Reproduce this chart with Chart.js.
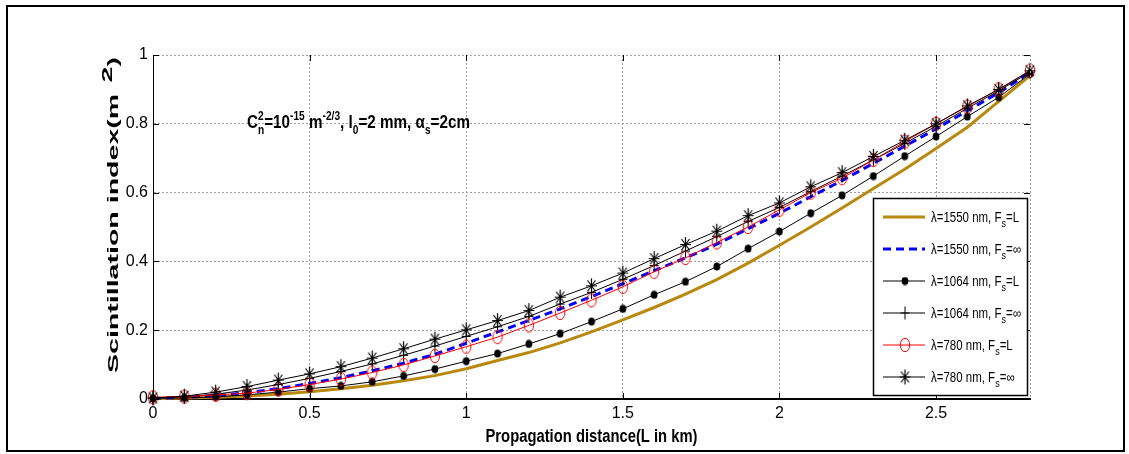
<!DOCTYPE html>
<html>
<head>
<meta charset="utf-8">
<script src="https://cdn.jsdelivr.net/npm/chart.js@4.4.1/dist/chart.umd.min.js"></script>
<style>
  html, body { margin: 0; padding: 0; background: #fff; }
  #wrap { width: 1129px; height: 454px; }
</style>
</head>
<body>
<div id="wrap"><canvas id="chart" width="1129" height="454"></canvas></div>
<script>
// ====================
// Data
// ====================
const distanceKm = [0, 0.1, 0.2, 0.3, 0.4, 0.5, 0.6, 0.7, 0.8, 0.9, 1, 1.1, 1.2, 1.3, 1.4,
  1.5, 1.6, 1.7, 1.8, 1.9, 2, 2.1, 2.2, 2.3, 2.4, 2.5, 2.6, 2.7, 2.8];

const s1550L = [0.001, 0.003, 0.005, 0.009, 0.014, 0.021, 0.03, 0.04, 0.053, 0.068, 0.088, 0.112,
  0.135, 0.163, 0.195, 0.23, 0.266, 0.305, 0.347, 0.395, 0.447, 0.5, 0.555, 0.612, 0.668,
  0.728, 0.79, 0.865, 0.94];
const s1550Inf = [0.002, 0.004, 0.01, 0.018, 0.03, 0.045, 0.062, 0.082, 0.104, 0.13, 0.162, 0.195,
  0.228, 0.262, 0.298, 0.335, 0.373, 0.41, 0.45, 0.495, 0.54, 0.588, 0.635, 0.685, 0.735,
  0.785, 0.838, 0.89, 0.95];
const s1064L = [0.002, 0.003, 0.006, 0.012, 0.02, 0.03, 0.038, 0.05, 0.067, 0.087, 0.11, 0.132,
  0.16, 0.19, 0.225, 0.262, 0.303, 0.341, 0.385, 0.437, 0.487, 0.54, 0.592, 0.648, 0.706,
  0.763, 0.821, 0.877, 0.945];
const s1064Inf = [0.003, 0.006, 0.014, 0.026, 0.042, 0.06, 0.08, 0.102, 0.127, 0.154, 0.182, 0.21,
  0.24, 0.276, 0.31, 0.348, 0.388, 0.43, 0.472, 0.516, 0.557, 0.603, 0.648, 0.695, 0.743,
  0.793, 0.845, 0.896, 0.95];
const s780L = [0.005, 0.007, 0.012, 0.017, 0.028, 0.042, 0.058, 0.077, 0.099, 0.125, 0.152, 0.18,
  0.214, 0.25, 0.287, 0.326, 0.37, 0.41, 0.455, 0.5, 0.55, 0.6, 0.642, 0.695, 0.748,
  0.8, 0.85, 0.9, 0.955];
const s780Inf = [0.003, 0.008, 0.02, 0.036, 0.055, 0.073, 0.094, 0.119, 0.146, 0.174, 0.201, 0.228,
  0.257, 0.296, 0.329, 0.366, 0.408, 0.449, 0.488, 0.533, 0.57, 0.617, 0.658, 0.705, 0.752,
  0.8, 0.852, 0.9, 0.954];

const seriesLabels = ['λ=1550 nm, F_s=L', 'λ=1550 nm, F_s=∞', 'λ=1064 nm, F_s=L',
  'λ=1064 nm, F_s=∞', 'λ=780 nm, F_s=L', 'λ=780 nm, F_s=∞'];
const xTicks = [0, 0.5, 1, 1.5, 2, 2.5];
const yTicks = [0, 0.2, 0.4, 0.6, 0.8, 1];
const xTitle = 'Propagation distance(L in km)';
const yTitle = 'Scintillation index(m';

// ====================
// Markers
// ====================
const SANS = '"Liberation Sans", Arial, sans-serif';

function markerCanvas(w, h, paint) {
  const c = document.createElement('canvas');
  c.width = w; c.height = h;
  const g = c.getContext('2d');
  paint(g, w / 2, h / 2);
  return c;
}

const dotMarker = markerCanvas(8, 9, (g, cx, cy) => {
  g.fillStyle = '#000';
  g.beginPath(); g.ellipse(cx, cy, 3.4, 4, 0, 0, Math.PI * 2); g.fill();
});
const ringMarker = markerCanvas(12, 16, (g, cx, cy) => {
  g.strokeStyle = '#ff0000'; g.lineWidth = 1;
  g.beginPath(); g.ellipse(cx, cy, 4.7, 6.7, 0, 0, Math.PI * 2); g.stroke();
});
const plusMarker = markerCanvas(11, 15, (g, cx, cy) => {
  g.strokeStyle = '#000'; g.lineWidth = 1;
  g.beginPath();
  g.moveTo(cx - 4.5, cy); g.lineTo(cx + 4.5, cy);
  g.moveTo(cx, cy - 6.5); g.lineTo(cx, cy + 6.5);
  g.stroke();
});
const starMarker = markerCanvas(13, 17, (g, cx, cy) => {
  g.strokeStyle = '#000'; g.lineWidth = 1.2;
  g.beginPath();
  g.moveTo(cx - 5.5, cy); g.lineTo(cx + 5.5, cy);
  g.moveTo(cx, cy - 7.5); g.lineTo(cx, cy + 7.5);
  g.moveTo(cx - 4, cy - 5.5); g.lineTo(cx + 4, cy + 5.5);
  g.moveTo(cx + 4, cy - 5.5); g.lineTo(cx - 4, cy + 5.5);
  g.stroke();
});

function pts(values) {
  return distanceKm.map((x, i) => ({ x, y: values[i] }));
}

const seriesValues = [s1550L, s1550Inf, s1064L, s1064Inf, s780L, s780Inf];
const seriesStyles = [
  { color: '#b8880f', width: 3, dash: [], marker: false },
  { color: '#0000ff', width: 3, dash: [8, 5], marker: false },
  { color: '#000000', width: 1, dash: [], marker: dotMarker },
  { color: '#000000', width: 1, dash: [], marker: plusMarker },
  { color: '#ff0000', width: 1, dash: [], marker: ringMarker },
  { color: '#000000', width: 1, dash: [], marker: starMarker }
];

const datasets = seriesValues.map((vals, i) => {
  const st = seriesStyles[i];
  return {
    label: seriesLabels[i],
    data: pts(vals),
    borderColor: st.color,
    borderWidth: st.width,
    borderDash: st.dash,
    tension: 0,
    fill: false,
    clip: false,
    order: seriesValues.length - i,
    pointStyle: st.marker || 'circle',
    pointRadius: st.marker ? 5 : 0,
    pointHoverRadius: st.marker ? 5 : 0
  };
});

// ====================
// Drawing helpers
// ====================
// draws a list of text runs (with sub/superscripts); returns total width
function drawRuns(ctx, runs, x, y, measureOnly) {
  const x0 = x;
  runs.forEach(r => {
    if (r.stack) {
      let w = 0;
      r.stack.forEach(s => {
        ctx.font = s.font;
        if (!measureOnly) ctx.fillText(s.t, x, y + s.dy);
        w = Math.max(w, ctx.measureText(s.t).width);
      });
      x += w;
      return;
    }
    ctx.font = r.font;
    if (!measureOnly) ctx.fillText(r.t, x, y + (r.dy || 0));
    x += ctx.measureText(r.t).width + (r.gap || 0);
  });
  return x - x0;
}

// draws runs squeezed/stretched so they span the given width
function drawFitted(ctx, runs, x, y, width) {
  const natural = drawRuns(ctx, runs, 0, 0, true);
  ctx.save();
  ctx.translate(x, y);
  ctx.scale(width / natural, 1);
  drawRuns(ctx, runs, 0, 0);
  ctx.restore();
}

function labelRuns(label, big, small) {
  const parts = label.split('_s');
  return [
    { t: parts[0], font: big },
    { t: 's', font: small, dy: 5 },
    { t: parts[1], font: big }
  ];
}

const decorations = {
  id: 'decorations',
  beforeDraw(chart) {
    const ctx = chart.ctx;
    ctx.save();
    ctx.fillStyle = '#fff';
    ctx.fillRect(0, 0, chart.width, chart.height);
    ctx.restore();
  },
  afterDraw(chart) {
    const ctx = chart.ctx;
    const a = chart.chartArea;
    const xs = chart.scales.x, ys = chart.scales.y;
    ctx.save();

    // right edge of the plot box, dotted like the grid
    ctx.strokeStyle = '#a0a0a0'; ctx.lineWidth = 1; ctx.setLineDash([2, 2]);
    ctx.beginPath(); ctx.moveTo(a.right + 0.5, a.top); ctx.lineTo(a.right + 0.5, a.bottom); ctx.stroke();
    ctx.setLineDash([]);

    // inward tick marks
    ctx.strokeStyle = '#000';
    ctx.beginPath();
    xTicks.forEach(v => {
      const px = Math.round(xs.getPixelForValue(v)) + 0.5;
      ctx.moveTo(px, a.bottom); ctx.lineTo(px, a.bottom - 6);
      ctx.moveTo(px, a.top); ctx.lineTo(px, a.top + 6);
    });
    yTicks.forEach(v => {
      const py = Math.round(ys.getPixelForValue(v)) + 0.5;
      ctx.moveTo(a.left, py); ctx.lineTo(a.left + 6, py);
      ctx.moveTo(a.right, py); ctx.lineTo(a.right - 6, py);
    });
    ctx.stroke();

    ctx.fillStyle = '#000';

    // y axis title, stretched along its length like the source figure
    ctx.save();
    ctx.translate(114, 215);
    ctx.rotate(-Math.PI / 2);
    ctx.textBaseline = 'middle';
    const yf = 'bold 15px ' + SANS;
    drawFitted(ctx, [
      { t: yTitle, font: yf, gap: 6 },
      { t: '2', font: yf, dy: -6 },
      { t: ')', font: yf }
    ], -158, 0, 316);
    ctx.restore();

    // x axis title
    ctx.textBaseline = 'middle';
    drawFitted(ctx, [{ t: xTitle, font: 'bold 18px ' + SANS }],
      (a.left + a.right) / 2 - 106, 437, 212);

    // annotation text with sub/superscripts
    const big = 'bold 18px ' + SANS;
    const sml = 'bold 12px ' + SANS;
    ctx.textBaseline = 'alphabetic';
    drawFitted(ctx, [
      { t: 'C', font: big },
      { stack: [{ t: '2', font: sml, dy: -8 }, { t: 'n', font: sml, dy: 6 }] },
      { t: '=10', font: big },
      { t: '-15', font: sml, dy: -8 },
      { t: ' m', font: big },
      { t: '-2/3', font: sml, dy: -8 },
      { t: ', l', font: big },
      { t: '0', font: sml, dy: 6 },
      { t: '=2 mm, α', font: big },
      { t: 's', font: sml, dy: 6 },
      { t: '=2cm', font: big }
    ], 247, 128, 223);

    // legend box
    const lx = 873, ly = 198, lw = 154, lh = 197;
    ctx.fillStyle = '#fff';
    ctx.fillRect(lx, ly, lw, lh);
    ctx.strokeStyle = '#000'; ctx.lineWidth = 1.5;
    ctx.strokeRect(lx + 0.5, ly + 0.5, lw, lh);
    chart.data.datasets.forEach((ds, i) => {
      const ry = 217 + i * 32;
      const st = seriesStyles[i];
      ctx.strokeStyle = st.color; ctx.lineWidth = st.width; ctx.setLineDash(st.dash);
      ctx.beginPath(); ctx.moveTo(883, ry); ctx.lineTo(925, ry); ctx.stroke();
      ctx.setLineDash([]);
      if (st.marker) ctx.drawImage(st.marker, 905 - st.marker.width / 2, ry - st.marker.height / 2);
      ctx.fillStyle = '#000';
      const runs = labelRuns(ds.label, '14px ' + SANS, '11px ' + SANS);
      const w = drawRuns(ctx, runs, 0, 0, true);
      drawFitted(ctx, runs, 931, ry + 5, w * 0.82);
    });

    // outer figure frame
    ctx.strokeStyle = '#000'; ctx.lineWidth = 2;
    ctx.strokeRect(7, 6, 1117, 445);
    ctx.restore();
  }
};

// ====================
// Chart
// ====================
const tickFont = { family: SANS, size: 16 };

new Chart(document.getElementById('chart'), {
  type: 'line',
  data: { datasets },
  options: {
    responsive: false,
    animation: false,
    events: [],
    layout: { padding: { left: 100, right: 99, top: 55, bottom: 8 } },
    plugins: { legend: { display: false }, tooltip: { enabled: false } },
    scales: {
      x: {
        type: 'linear', min: 0, max: 2.8,
        afterBuildTicks: s => { s.ticks = xTicks.map(v => ({ value: v })); },
        afterFit: s => { s.height = 47; },
        grid: { color: '#a0a0a0', lineWidth: 1, drawTicks: false },
        border: { display: true, color: '#000', width: 2, dash: [2, 2] },
        ticks: { padding: 5, color: '#000', font: tickFont, maxRotation: 0, callback: v => String(v) },
        title: { display: false }
      },
      y: {
        type: 'linear', min: 0, max: 1,
        afterBuildTicks: s => { s.ticks = yTicks.map(v => ({ value: v })); },
        afterFit: s => { s.width = 53; },
        grid: { color: '#a0a0a0', lineWidth: 1, drawTicks: false },
        border: { display: true, color: '#000', width: 1, dash: [2, 2] },
        ticks: { padding: 5, color: '#000', font: tickFont, callback: v => String(v) },
        title: { display: false }
      }
    }
  },
  plugins: [decorations]
});
</script>
</body>
</html>
